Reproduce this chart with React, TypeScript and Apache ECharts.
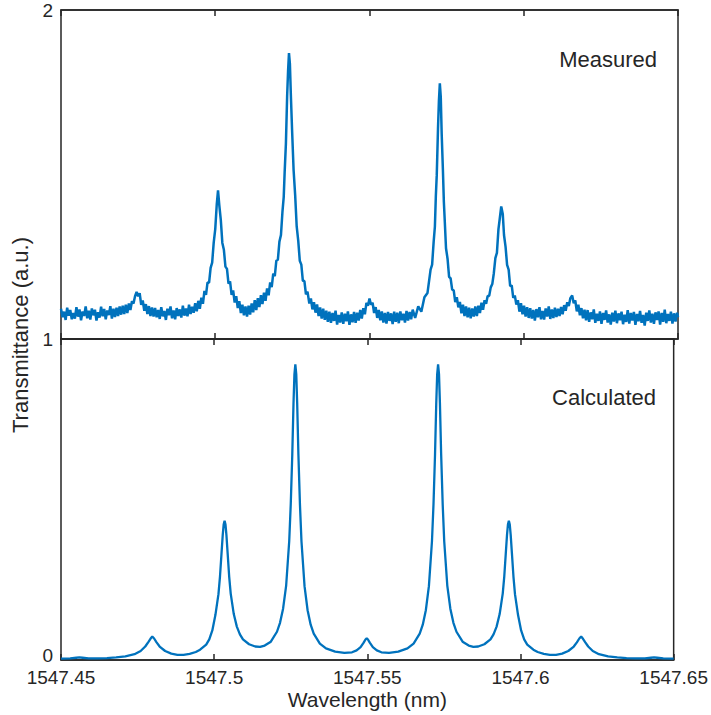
import React, { useEffect, useRef } from "react";
import * as echarts from "echarts";

// ---- axis / text content ----
const wavelengthMin = 1547.45;
const wavelengthMax = 1547.65;
const wavelengthStep = 0.05;
const measuredRange = [1, 2];
const calculatedRange = [0, 1];
const panelLabels = ["Measured", "Calculated"];
const xAxisTitle = "Wavelength (nm)";
const yAxisTitle = "Transmittance (a.u.)";

// ---- measured spectrum: [wavelength (nm), transmittance (a.u.)] ----
const measured: [number, number][] = [
  [1547.4500, 1.092], [1547.4505, 1.066], [1547.4510, 1.083], [1547.4515, 1.058], [1547.4520, 1.095],
  [1547.4525, 1.071], [1547.4530, 1.088], [1547.4535, 1.060], [1547.4540, 1.079], [1547.4545, 1.062],
  [1547.4550, 1.097], [1547.4555, 1.068], [1547.4560, 1.090], [1547.4565, 1.057], [1547.4570, 1.084],
  [1547.4575, 1.070], [1547.4580, 1.099], [1547.4585, 1.063], [1547.4590, 1.086], [1547.4595, 1.059],
  [1547.4600, 1.093], [1547.4605, 1.072], [1547.4610, 1.089], [1547.4615, 1.056], [1547.4620, 1.081],
  [1547.4625, 1.065], [1547.4630, 1.098], [1547.4635, 1.069], [1547.4640, 1.091], [1547.4645, 1.060],
  [1547.4650, 1.087], [1547.4655, 1.073], [1547.4660, 1.100], [1547.4665, 1.062], [1547.4670, 1.092],
  [1547.4675, 1.067], [1547.4680, 1.095], [1547.4685, 1.070], [1547.4690, 1.099],
  [1547.4695, 1.074], [1547.4700, 1.101], [1547.4705, 1.076], [1547.4710, 1.104], [1547.4715, 1.079],
  [1547.4720, 1.108], [1547.4725, 1.088], [1547.4730, 1.115], [1547.4735, 1.108], [1547.4740, 1.130],
  [1547.4745, 1.143], [1547.4750, 1.130], [1547.4755, 1.139], [1547.4760, 1.104], [1547.4765, 1.117],
  [1547.4770, 1.086], [1547.4775, 1.106], [1547.4780, 1.076], [1547.4785, 1.100], [1547.4790, 1.070],
  [1547.4795, 1.096], [1547.4800, 1.068],
  [1547.4805, 1.094], [1547.4810, 1.066], [1547.4815, 1.088], [1547.4820, 1.061], [1547.4825, 1.097],
  [1547.4830, 1.069], [1547.4835, 1.085], [1547.4840, 1.058], [1547.4845, 1.092], [1547.4850, 1.072],
  [1547.4855, 1.099], [1547.4860, 1.063], [1547.4865, 1.087], [1547.4870, 1.060], [1547.4875, 1.094],
  [1547.4880, 1.070], [1547.4885, 1.090], [1547.4890, 1.065], [1547.4895, 1.101], [1547.4900, 1.071],
  [1547.4905, 1.093], [1547.4910, 1.069], [1547.4915, 1.104], [1547.4920, 1.076], [1547.4925, 1.098],
  [1547.4930, 1.080], [1547.4935, 1.109], [1547.4940, 1.084],
  [1547.4945, 1.116], [1547.4950, 1.092], [1547.4955, 1.126], [1547.4960, 1.107], [1547.4965, 1.146],
  [1547.4970, 1.134], [1547.4975, 1.172], [1547.4980, 1.171], [1547.4985, 1.216], [1547.4990, 1.232],
  [1547.4995, 1.293], [1547.5000, 1.334], [1547.5005, 1.411], [1547.5009, 1.452], [1547.5013, 1.408],
  [1547.5018, 1.362], [1547.5023, 1.292], [1547.5028, 1.271], [1547.5033, 1.220], [1547.5038, 1.213],
  [1547.5043, 1.168], [1547.5048, 1.175], [1547.5053, 1.134], [1547.5058, 1.148], [1547.5063, 1.111],
  [1547.5068, 1.130], [1547.5073, 1.094], [1547.5078, 1.115], [1547.5083, 1.079], [1547.5088, 1.104],
  [1547.5093, 1.072], [1547.5098, 1.099], [1547.5103, 1.068], [1547.5108, 1.101],
  [1547.5113, 1.074], [1547.5118, 1.108], [1547.5123, 1.081], [1547.5128, 1.118], [1547.5133, 1.088],
  [1547.5138, 1.124], [1547.5143, 1.097], [1547.5148, 1.133], [1547.5153, 1.106], [1547.5158, 1.141],
  [1547.5163, 1.116], [1547.5168, 1.154], [1547.5173, 1.133], [1547.5178, 1.172], [1547.5183, 1.158],
  [1547.5188, 1.199], [1547.5193, 1.191], [1547.5198, 1.238], [1547.5203, 1.241], [1547.5208, 1.296],
  [1547.5213, 1.316], [1547.5218, 1.389], [1547.5222, 1.432], [1547.5225, 1.508], [1547.5229, 1.593],
  [1547.5233, 1.737], [1547.5236, 1.814], [1547.5239, 1.869], [1547.5242, 1.836], [1547.5245, 1.744],
  [1547.5249, 1.636], [1547.5254, 1.513], [1547.5259, 1.438], [1547.5264, 1.342], [1547.5269, 1.299],
  [1547.5274, 1.238], [1547.5279, 1.226], [1547.5284, 1.177], [1547.5289, 1.176], [1547.5294, 1.136],
  [1547.5299, 1.144], [1547.5305, 1.108], [1547.5310, 1.123], [1547.5315, 1.090], [1547.5320, 1.112],
  [1547.5325, 1.080], [1547.5330, 1.105], [1547.5335, 1.070], [1547.5340, 1.096], [1547.5345, 1.062],
  [1547.5350, 1.092], [1547.5355, 1.058], [1547.5360, 1.086],
  [1547.5365, 1.052], [1547.5370, 1.083], [1547.5375, 1.049], [1547.5380, 1.079], [1547.5385, 1.055],
  [1547.5390, 1.086], [1547.5395, 1.044], [1547.5400, 1.073], [1547.5405, 1.050], [1547.5410, 1.081],
  [1547.5415, 1.046], [1547.5420, 1.077], [1547.5425, 1.054], [1547.5430, 1.084], [1547.5435, 1.043],
  [1547.5440, 1.075], [1547.5445, 1.051], [1547.5450, 1.082], [1547.5455, 1.049], [1547.5460, 1.080],
  [1547.5465, 1.056], [1547.5470, 1.088], [1547.5475, 1.062], [1547.5480, 1.094], [1547.5485, 1.075],
  [1547.5490, 1.110], [1547.5495, 1.101], [1547.5500, 1.123], [1547.5505, 1.104], [1547.5510, 1.110],
  [1547.5515, 1.079], [1547.5520, 1.097], [1547.5525, 1.064], [1547.5530, 1.088],
  [1547.5535, 1.057], [1547.5540, 1.084], [1547.5545, 1.050], [1547.5550, 1.079], [1547.5555, 1.047],
  [1547.5560, 1.082], [1547.5565, 1.055], [1547.5570, 1.078], [1547.5575, 1.045], [1547.5580, 1.083],
  [1547.5585, 1.052], [1547.5590, 1.080], [1547.5595, 1.048], [1547.5600, 1.084], [1547.5605, 1.057],
  [1547.5610, 1.077], [1547.5615, 1.050], [1547.5620, 1.085], [1547.5625, 1.056], [1547.5630, 1.082],
  [1547.5635, 1.060], [1547.5640, 1.089],
  [1547.5648, 1.064], [1547.5658, 1.099], [1547.5668, 1.083], [1547.5678, 1.127], [1547.5688, 1.140],
  [1547.5698, 1.211], [1547.5703, 1.226], [1547.5708, 1.296], [1547.5712, 1.342], [1547.5715, 1.433],
  [1547.5718, 1.498], [1547.5722, 1.638], [1547.5725, 1.724], [1547.5728, 1.777], [1547.5731, 1.736],
  [1547.5734, 1.623], [1547.5738, 1.512], [1547.5741, 1.418], [1547.5744, 1.358], [1547.5748, 1.276],
  [1547.5753, 1.244], [1547.5758, 1.189], [1547.5763, 1.184], [1547.5768, 1.150], [1547.5773, 1.148],
  [1547.5778, 1.112], [1547.5783, 1.127], [1547.5788, 1.096], [1547.5793, 1.113], [1547.5798, 1.078],
  [1547.5803, 1.104], [1547.5808, 1.070], [1547.5813, 1.099], [1547.5818, 1.066], [1547.5823, 1.095],
  [1547.5828, 1.063], [1547.5833, 1.093], [1547.5838, 1.068], [1547.5843, 1.099],
  [1547.5848, 1.070], [1547.5853, 1.101], [1547.5858, 1.079], [1547.5863, 1.110], [1547.5868, 1.089],
  [1547.5873, 1.118], [1547.5878, 1.107], [1547.5883, 1.131], [1547.5888, 1.131], [1547.5893, 1.157],
  [1547.5898, 1.167], [1547.5903, 1.200], [1547.5908, 1.246], [1547.5913, 1.262], [1547.5918, 1.334],
  [1547.5922, 1.364], [1547.5927, 1.403], [1547.5932, 1.380], [1547.5936, 1.316], [1547.5941, 1.281],
  [1547.5946, 1.225], [1547.5951, 1.211], [1547.5956, 1.161], [1547.5961, 1.163], [1547.5966, 1.125],
  [1547.5971, 1.132], [1547.5976, 1.105], [1547.5981, 1.118], [1547.5986, 1.083], [1547.5991, 1.109],
  [1547.5996, 1.075], [1547.6001, 1.101], [1547.6006, 1.068], [1547.6011, 1.097], [1547.6016, 1.064],
  [1547.6021, 1.094], [1547.6026, 1.062], [1547.6031, 1.088], [1547.6036, 1.056], [1547.6041, 1.091],
  [1547.6046, 1.066], [1547.6051, 1.097], [1547.6056, 1.060], [1547.6061, 1.085], [1547.6066, 1.059],
  [1547.6071, 1.093], [1547.6076, 1.068], [1547.6081, 1.099], [1547.6086, 1.061], [1547.6091, 1.090],
  [1547.6096, 1.064], [1547.6101, 1.095], [1547.6106, 1.067],
  [1547.6111, 1.092], [1547.6116, 1.070], [1547.6121, 1.097], [1547.6126, 1.075], [1547.6131, 1.103],
  [1547.6136, 1.086], [1547.6141, 1.112], [1547.6146, 1.100], [1547.6151, 1.124], [1547.6157, 1.132],
  [1547.6162, 1.109], [1547.6167, 1.117], [1547.6172, 1.084], [1547.6177, 1.104], [1547.6182, 1.072],
  [1547.6187, 1.094], [1547.6192, 1.063], [1547.6197, 1.089],
  [1547.6202, 1.057], [1547.6207, 1.088], [1547.6212, 1.052], [1547.6217, 1.081], [1547.6222, 1.060],
  [1547.6227, 1.090], [1547.6232, 1.049], [1547.6237, 1.077], [1547.6242, 1.055], [1547.6247, 1.084],
  [1547.6252, 1.046], [1547.6257, 1.079], [1547.6262, 1.058], [1547.6267, 1.087], [1547.6272, 1.050],
  [1547.6277, 1.075], [1547.6282, 1.044], [1547.6287, 1.080], [1547.6292, 1.053], [1547.6297, 1.086],
  [1547.6302, 1.048], [1547.6307, 1.078], [1547.6312, 1.057], [1547.6317, 1.083], [1547.6322, 1.045],
  [1547.6327, 1.074], [1547.6332, 1.052], [1547.6337, 1.088], [1547.6342, 1.047], [1547.6347, 1.079],
  [1547.6352, 1.056], [1547.6357, 1.082], [1547.6362, 1.043], [1547.6367, 1.076], [1547.6372, 1.054],
  [1547.6377, 1.085], [1547.6382, 1.049], [1547.6387, 1.073], [1547.6392, 1.041], [1547.6397, 1.080],
  [1547.6402, 1.055], [1547.6407, 1.087], [1547.6412, 1.050], [1547.6417, 1.077], [1547.6422, 1.046],
  [1547.6427, 1.081], [1547.6432, 1.058], [1547.6437, 1.084], [1547.6442, 1.044], [1547.6447, 1.079],
  [1547.6452, 1.052], [1547.6457, 1.089], [1547.6462, 1.048], [1547.6467, 1.076], [1547.6472, 1.055],
  [1547.6477, 1.083], [1547.6482, 1.047], [1547.6487, 1.078], [1547.6492, 1.053], [1547.6497, 1.080],
  [1547.6500, 1.066],
];

// ---- calculated spectrum: [wavelength (nm), transmittance (a.u.)] ----
const calculated: [number, number][] = [
  [1547.4500, 0.004], [1547.4530, 0.005], [1547.4550, 0.007], [1547.4560, 0.008], [1547.4570, 0.007],
  [1547.4590, 0.005], [1547.4620, 0.005], [1547.4650, 0.006], [1547.4680, 0.008], [1547.4710, 0.011],
  [1547.4740, 0.018], [1547.4760, 0.028], [1547.4775, 0.042], [1547.4785, 0.056], [1547.4792, 0.066],
  [1547.4798, 0.073], [1547.4804, 0.067], [1547.4812, 0.055], [1547.4822, 0.042], [1547.4840, 0.028],
  [1547.4860, 0.020], [1547.4880, 0.016], [1547.4900, 0.016], [1547.4920, 0.019], [1547.4940, 0.025],
  [1547.4954, 0.032], [1547.4974, 0.048], [1547.4984, 0.064], [1547.4994, 0.092], [1547.5004, 0.140],
  [1547.5014, 0.205], [1547.5019, 0.260], [1547.5024, 0.332], [1547.5028, 0.390], [1547.5031, 0.422],
  [1547.5034, 0.434], [1547.5037, 0.422], [1547.5040, 0.390], [1547.5044, 0.332], [1547.5049, 0.260],
  [1547.5054, 0.207], [1547.5064, 0.143], [1547.5074, 0.104], [1547.5084, 0.080], [1547.5094, 0.064],
  [1547.5114, 0.049], [1547.5134, 0.042], [1547.5150, 0.041], [1547.5165, 0.045], [1547.5185, 0.057],
  [1547.5205, 0.088], [1547.5215, 0.116], [1547.5225, 0.160], [1547.5235, 0.232], [1547.5245, 0.370],
  [1547.5250, 0.485], [1547.5255, 0.640], [1547.5259, 0.800], [1547.5262, 0.890], [1547.5265, 0.921],
  [1547.5268, 0.890], [1547.5271, 0.800], [1547.5275, 0.640], [1547.5280, 0.485], [1547.5285, 0.370],
  [1547.5295, 0.230], [1547.5305, 0.155], [1547.5315, 0.110], [1547.5325, 0.082], [1547.5345, 0.051],
  [1547.5365, 0.036], [1547.5395, 0.026], [1547.5425, 0.022], [1547.5450, 0.024], [1547.5465, 0.030],
  [1547.5478, 0.040], [1547.5488, 0.054], [1547.5494, 0.064], [1547.5498, 0.068],
  [1547.5502, 0.064], [1547.5508, 0.054], [1547.5518, 0.040], [1547.5531, 0.030], [1547.5546, 0.024],
  [1547.5571, 0.022], [1547.5601, 0.026], [1547.5631, 0.036], [1547.5651, 0.051], [1547.5671, 0.082],
  [1547.5681, 0.110], [1547.5691, 0.155], [1547.5701, 0.230], [1547.5711, 0.370], [1547.5716, 0.485],
  [1547.5721, 0.640], [1547.5725, 0.800], [1547.5728, 0.890], [1547.5731, 0.921], [1547.5734, 0.890],
  [1547.5737, 0.800], [1547.5741, 0.640], [1547.5746, 0.485], [1547.5751, 0.370], [1547.5761, 0.232],
  [1547.5771, 0.160], [1547.5781, 0.116], [1547.5791, 0.088], [1547.5811, 0.057], [1547.5831, 0.045],
  [1547.5846, 0.041], [1547.5862, 0.042], [1547.5882, 0.049], [1547.5902, 0.064], [1547.5912, 0.080],
  [1547.5922, 0.104], [1547.5932, 0.143], [1547.5942, 0.207], [1547.5947, 0.260], [1547.5952, 0.332],
  [1547.5956, 0.390], [1547.5959, 0.422], [1547.5962, 0.434], [1547.5965, 0.422], [1547.5968, 0.390],
  [1547.5972, 0.332], [1547.5977, 0.260], [1547.5982, 0.205], [1547.5992, 0.140], [1547.6002, 0.092],
  [1547.6012, 0.064], [1547.6022, 0.048], [1547.6042, 0.032], [1547.6056, 0.025], [1547.6076, 0.019],
  [1547.6096, 0.016], [1547.6116, 0.016], [1547.6136, 0.020], [1547.6156, 0.028], [1547.6174, 0.042],
  [1547.6184, 0.055], [1547.6192, 0.067], [1547.6198, 0.073], [1547.6204, 0.066], [1547.6211, 0.056],
  [1547.6221, 0.042], [1547.6236, 0.028], [1547.6256, 0.018], [1547.6286, 0.011], [1547.6316, 0.008],
  [1547.6346, 0.006], [1547.6376, 0.005], [1547.6406, 0.005], [1547.6426, 0.007], [1547.6436, 0.008],
  [1547.6446, 0.007], [1547.6466, 0.005], [1547.6500, 0.004],
];

export default function App() {
  const ref = useRef<HTMLDivElement>(null);

  useEffect(() => {
    if (!ref.current) return;
    const chart = echarts.init(ref.current, undefined, { renderer: "svg" });
    const ink = "#262626";
    const blue = "#0072BD";
    const font = "'Liberation Sans', Arial, Helvetica, sans-serif";
    const fmtX = (v: number) => String(Number(v.toFixed(2)));

    const xAxisFor = (gridIndex: number, position: "top" | "bottom", labels: boolean) => ({
      type: "value",
      gridIndex,
      position,
      min: wavelengthMin,
      max: wavelengthMax,
      interval: wavelengthStep,
      axisLine: { show: true, lineStyle: { color: ink, width: 1.5 } },
      axisTick: { show: true, inside: true, length: 6, lineStyle: { color: ink, width: 1.5 } },
      splitLine: { show: false },
      axisLabel: labels
        ? { show: true, color: ink, fontSize: 19, fontFamily: font, margin: 8, formatter: fmtX }
        : { show: false },
      name: labels ? xAxisTitle : "",
      nameLocation: "middle",
      nameGap: 29,
      nameTextStyle: { color: ink, fontSize: 21, fontFamily: font },
    });

    const yAxisFor = (gridIndex: number, range: number[], hide: number | null) => ({
      type: "value",
      gridIndex,
      min: range[0],
      max: range[1],
      interval: 1,
      axisLine: { show: false },
      axisTick: { show: false },
      splitLine: { show: false },
      axisLabel: {
        color: ink,
        fontSize: 19,
        fontFamily: font,
        margin: 8,
        formatter: (v: number) => {
          if (hide !== null && v === hide) return "";
          if (v === 0) return "{lo|0}";
          return String(v);
        },
        rich: {
          lo: { color: ink, fontSize: 19, fontFamily: font, padding: [0, 0, 10, 0] },
        },
      },
    });

    chart.setOption({
      animation: false,
      backgroundColor: "#ffffff",
      grid: [
        { left: 61, top: 10, width: 617, height: 329, show: true, borderColor: ink, borderWidth: 1.5, backgroundColor: "transparent" },
        { left: 61, top: 339, width: 617, height: 321, show: true, borderColor: ink, borderWidth: 1.5, backgroundColor: "transparent" },
      ],
      xAxis: [
        xAxisFor(0, "bottom", false),
        xAxisFor(0, "top", false),
        xAxisFor(1, "bottom", true),
        xAxisFor(1, "top", false),
      ],
      yAxis: [yAxisFor(0, measuredRange, 1), yAxisFor(1, calculatedRange, null)],
      series: [
        {
          type: "line",
          name: panelLabels[0],
          xAxisIndex: 0,
          yAxisIndex: 0,
          data: measured,
          showSymbol: false,
          symbol: "none",
          lineStyle: { color: blue, width: 2.5 },
          clip: true,
        },
        {
          type: "line",
          name: panelLabels[1],
          xAxisIndex: 2,
          yAxisIndex: 1,
          data: calculated,
          showSymbol: false,
          symbol: "none",
          lineStyle: { color: blue, width: 2.3 },
          clip: true,
        },
      ],
      graphic: [
        {
          type: "text",
          x: 20,
          y: 335,
          rotation: Math.PI / 2,
          style: {
            text: yAxisTitle,
            fill: ink,
            fontSize: 22,
            fontFamily: font,
            align: "center",
            verticalAlign: "middle",
            textAlign: "center",
            textVerticalAlign: "middle",
          },
        },
        {
          type: "text",
          x: 657,
          y: 59,
          style: {
            text: panelLabels[0],
            fill: ink,
            fontSize: 22,
            fontFamily: font,
            align: "right",
            verticalAlign: "middle",
            textAlign: "right",
            textVerticalAlign: "middle",
          },
        },
        {
          type: "text",
          x: 656,
          y: 397,
          style: {
            text: panelLabels[1],
            fill: ink,
            fontSize: 22,
            fontFamily: font,
            align: "right",
            verticalAlign: "middle",
            textAlign: "right",
            textVerticalAlign: "middle",
          },
        },
      ],
    });

    return () => chart.dispose();
  }, []);

  return (
    <div
      ref={ref}
      style={{ position: "absolute", left: 0, top: 0, width: 711, height: 715, background: "#fff" }}
    />
  );
}
